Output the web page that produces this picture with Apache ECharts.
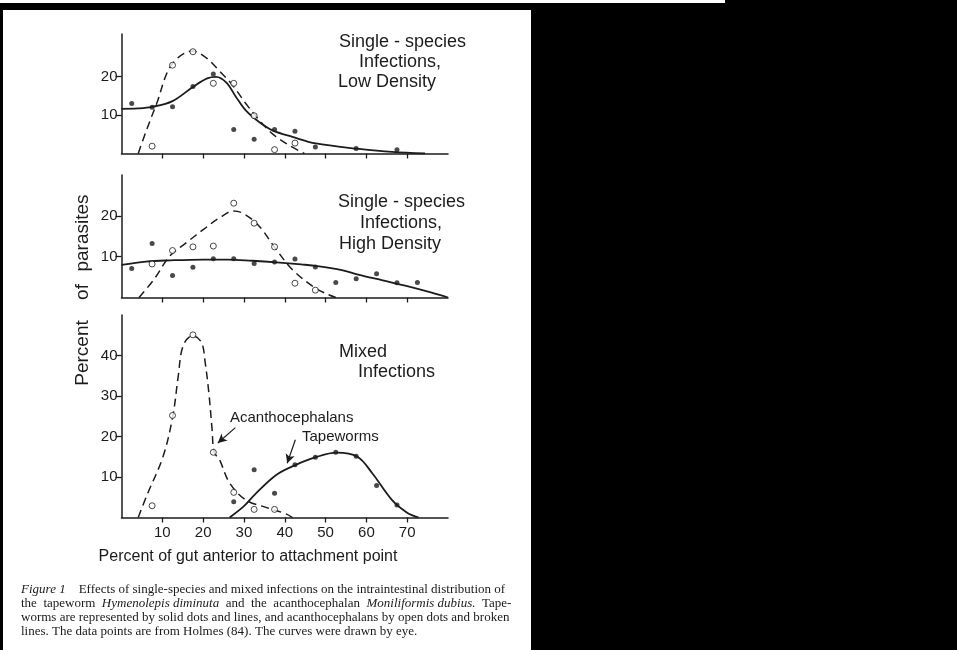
<!DOCTYPE html>
<html>
<head>
<meta charset="utf-8">
<script src="https://cdn.jsdelivr.net/npm/echarts@6/dist/echarts.min.js"></script>
<style>
  html, body { margin: 0; padding: 0; background: #000; }
  #container { width: 957px; height: 650px; }
</style>
</head>
<body>
<div id="container"></div>
<script>
// ---- data (x = % of gut, y = % of parasites) ----
// panel 1: single-species, low density
var tapeLowDots = [[2.5,13],[7.5,12],[12.5,12.1],[17.5,17.4],[22.5,20.6],[27.5,6.2],[32.5,3.7],[37.5,6.2],[42.5,5.8],[47.5,1.7],[57.5,1.3],[67.5,1.0]]
var acanLowDots = [[7.5,1.9],[12.5,22.9],[17.5,26.4],[22.5,18.2],[27.5,18.2],[32.5,9.8],[37.5,1.0],[42.5,2.7]]
var tapeLowCurve = [[0,11.6],[4,11.7],[7.5,12.1],[12.5,13.6],[17.4,17.2],[21,19.5],[23.2,19.9],[25.7,18.4],[28.1,14.6],[30.5,11.1],[33.8,8.1],[37,6.0],[41.9,4.3],[47.6,2.6],[58.2,1.2],[66.3,0.4],[74.4,0]]
var acanLowCurve = [[4.1,0],[6.1,6.0],[8.6,12.9],[12.2,22.9],[17.4,26.6],[20.8,24.8],[24,21.4],[27.3,17.6],[30.5,12.9],[33.8,8.6],[37,5.1],[41.1,2.1],[44.8,0]]

// panel 2: single-species, high density
var tapeHighDots = [[2.5,7.1],[7.5,13.2],[12.5,5.4],[17.5,7.4],[22.5,9.5],[27.5,9.5],[32.5,8.3],[37.5,8.7],[42.5,9.4],[47.5,7.5],[52.5,3.7],[57.5,4.6],[62.5,5.8],[67.5,3.6],[72.5,3.7]]
var acanHighDots = [[7.5,8.2],[12.5,11.5],[17.5,12.4],[22.5,12.6],[27.5,23.1],[32.5,18.2],[37.5,12.4],[42.5,3.5],[47.5,1.8]]
var tapeHighCurve = [[0,8.0],[6,8.8],[12,9.1],[20,9.3],[26,9.3],[32,9.0],[38,8.6],[44,8.1],[48,7.7],[54,6.7],[58,5.6],[64,4.2],[70,2.8],[76,1.2],[80,0]]
var acanHighCurve = [[4.3,0],[8,4.5],[11.8,10.1],[16,13.5],[20,16.6],[24,19.5],[27.5,21.2],[30,20.5],[33.8,17.4],[37.8,11.9],[41.9,6.8],[46.8,2.8],[50,1],[52.5,0]]

// panel 3: mixed infections
var tapeMixDots = [[27.5,3.9],[32.5,11.8],[37.5,6.0],[42.5,13.0],[47.5,14.9],[52.5,16.1],[57.5,15.1],[62.5,7.9],[67.5,3.1]]
var acanMixDots = [[7.5,2.9],[12.5,25.2],[17.5,45.1],[22.5,16.1],[27.5,6.2],[32.5,2.0],[37.5,2.0]]
var tapeMixCurve = [[26.5,0],[30,2.8],[32.6,5.6],[37.9,10.5],[42.7,13],[47.6,14.9],[52.7,16],[57.8,15],[61.4,11],[66.3,4.3],[70,1.2],[72.8,0]]
var acanMixCurve = [[4.1,0],[6.1,5.2],[10.2,15.1],[12.6,25.2],[13.9,34.9],[15.1,42.4],[17.4,44.9],[19.6,43.2],[20.5,38.3],[21.4,30.8],[22.2,21.7],[22.7,16.1],[24,14.3],[26.5,8.5],[30.5,4.3],[35.4,2.5],[40.3,0.9],[41.9,0]]

var xTicks = [10, 20, 30, 40, 50, 60, 70]
var yTicksSingle = [10, 20]
var yTicksMixed = [10, 20, 30, 40]
var yMax = [31, 30, 50]

var ink = '#1c1c1c'
var sans = '"Liberation Sans", Arial, sans-serif'
var serif = '"Liberation Serif", "Times New Roman", serif'

var dom = document.getElementById('container')
var myChart = echarts.init(dom, null, {renderer: 'canvas'})

var grids = [
  {left: 121.5, top: 34, width: 326.5, height: 119.5},
  {left: 121.5, top: 175, width: 326.5, height: 122.5},
  {left: 121.5, top: 315, width: 326.5, height: 202.5}
]
grids.forEach(function(g){ g.outerBoundsMode = 'none' })

function xAxis(i, showLabels){
  return {
    type: 'value', gridIndex: i, min: 0, max: 80,
    axisLine: {lineStyle: {color: ink, width: 1.5}},
    axisTick: {show: true, length: 5, customValues: xTicks, lineStyle: {color: ink, width: 1.3}},
    axisLabel: {show: showLabels, customValues: xTicks, color: ink, fontSize: 15, fontFamily: sans, margin: 8},
    splitLine: {show: false}
  }
}
function yAxis(i, ticks){
  return {
    type: 'value', gridIndex: i, min: 0, max: yMax[i],
    axisLine: {show: true, lineStyle: {color: ink, width: 1.5}},
    axisTick: {show: true, length: 6, customValues: ticks, lineStyle: {color: ink, width: 1.3}},
    axisLabel: {customValues: ticks, color: ink, fontSize: 15, fontFamily: sans, margin: 4},
    splitLine: {show: false}
  }
}

function dots(data, i){
  return {type: 'scatter', xAxisIndex: i, yAxisIndex: i, data: data, symbol: 'circle', symbolSize: 5,
    itemStyle: {color: ink}, silent: true, z: 4}
}
function rings(data, i){
  return {type: 'scatter', xAxisIndex: i, yAxisIndex: i, data: data, symbol: 'circle', symbolSize: 6,
    itemStyle: {color: '#fff', borderColor: ink, borderWidth: 1}, silent: true, z: 5}
}
function curve(data, i, dashed){
  return {type: 'line', xAxisIndex: i, yAxisIndex: i, data: data, smooth: 0.35, showSymbol: false,
    lineStyle: {color: ink, width: dashed ? 1.5 : 1.8, type: dashed ? [8, 5] : 'solid'}, silent: true, z: 3}
}

var acanArrow = curve(acanMixCurve, 2, true)
acanArrow.markLine = {
  silent: true, symbol: ['none', 'arrow'], symbolSize: [7, 9],
  label: {show: false},
  lineStyle: {color: ink, width: 1.2, type: 'solid'},
  data: [
    [{coord: [27.9, 22.2]}, {coord: [23.6, 18.4]}],
    [{coord: [42.6, 19.2], lineStyle: {curveness: 0.25}}, {coord: [40.6, 13.4]}]
  ]
}

function txt(text, x, y, size, align){
  return {type: 'text', x: x, y: y, silent: true,
    style: {text: text, fill: ink, font: size + 'px ' + sans, align: align || 'left', verticalAlign: 'middle'}}
}
function vtxt(text, y){
  return {type: 'text', x: 83, y: y, rotation: Math.PI / 2, silent: true,
    style: {text: text, fill: ink, font: '19px ' + sans, align: 'center', verticalAlign: 'middle'}}
}

var graphics = [
  {type: 'rect', shape: {x: 0, y: 0, width: 725, height: 3}, style: {fill: '#fff'}, z: -10},
  {type: 'rect', shape: {x: 3, y: 10, width: 528, height: 640}, style: {fill: '#fff'}, z: -10},
  txt('Single - species', 339, 42, 18),
  txt('Infections,', 359, 62, 18),
  txt('Low Density', 338, 82, 18),
  txt('Single - species', 338, 202, 18),
  txt('Infections,', 360, 223, 18),
  txt('High Density', 339, 244, 18),
  txt('Mixed', 339, 352, 18),
  txt('Infections', 358, 372, 18),
  txt('Acanthocephalans', 230, 418, 15),
  txt('Tapeworms', 302, 437, 15),
  txt('Percent of gut anterior to attachment point', 248, 557, 16, 'center'),
  vtxt('Percent', 353),
  vtxt('of', 292),
  vtxt('parasites', 233)
]

var captionLines = [
  '{i|Figure 1}    Effects of single-species and mixed infections on the intraintestinal distribution of',
  'the  tapeworm  {i|Hymenolepis diminuta}  and  the  acanthocephalan  {i|Moniliformis dubius.}  Tape-',
  'worms are represented by solid dots and lines, and acanthocephalans by open dots and broken',
  'lines. The data points are from Holmes (84). The curves were drawn by eye.'
]
var captionY = [590, 604, 618, 631.5]
captionLines.forEach(function(line, k){
  graphics.push({type: 'text', x: 21, y: captionY[k], silent: true,
    style: {text: line, fill: '#1a1a1a', font: '13px ' + serif, verticalAlign: 'middle',
      rich: {i: {font: 'italic 13px ' + serif, fill: '#1a1a1a'}}}})
})

var option = {
  backgroundColor: '#000',
  animation: false,
  grid: grids,
  xAxis: [xAxis(0, false), xAxis(1, false), xAxis(2, true)],
  yAxis: [yAxis(0, yTicksSingle), yAxis(1, yTicksSingle), yAxis(2, yTicksMixed)],
  graphic: graphics,
  series: [
    curve(tapeLowCurve, 0, false), curve(acanLowCurve, 0, true),
    dots(tapeLowDots, 0), rings(acanLowDots, 0),
    curve(tapeHighCurve, 1, false), curve(acanHighCurve, 1, true),
    dots(tapeHighDots, 1), rings(acanHighDots, 1),
    curve(tapeMixCurve, 2, false), acanArrow,
    dots(tapeMixDots, 2), rings(acanMixDots, 2)
  ]
}
myChart.setOption(option, true)
</script>
</body>
</html>
